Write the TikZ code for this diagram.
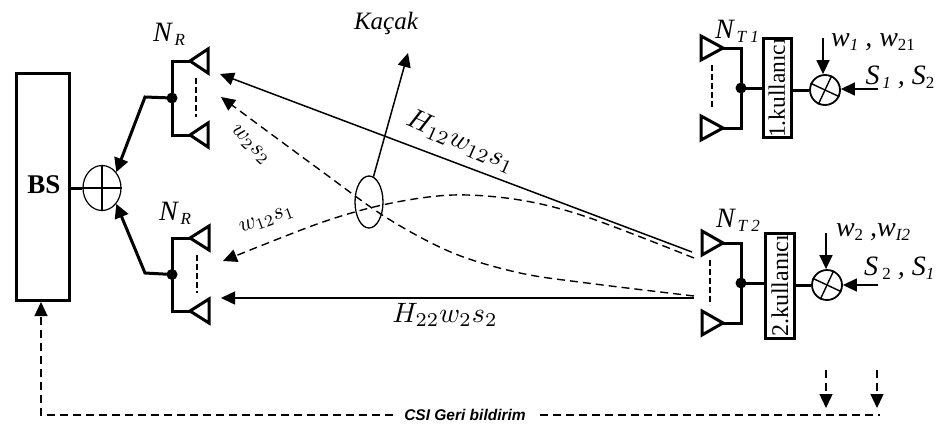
\documentclass[tikz,border=0pt]{standalone}
\usepackage{fontspec}
\setmainfont{Liberation Serif}
\newfontfamily\capfont{Liberation Sans}
\usetikzlibrary{arrows.meta,shapes}
\newcommand{\lowsub}[1]{\raisebox{-4pt}{\fontsize{17}{17}\selectfont #1}}
\tikzset{math/.style = {execute at begin node=$, execute at end node=$},
  sig/.style = {line width=1.5pt, -{Triangle[length=14pt,width=13pt]}},
  sigdash/.style = {line width=1.4pt, dash pattern=on 8pt off 5pt},
  bold/.style = {line width=3pt},
  boldarrow/.style = {line width=3pt, -{Triangle[length=14pt,width=14pt]}},
  sym/.style = {font=\fontsize{28}{28}\selectfont\itshape, inner sep=0pt},
  gain/.style = {math, scale=2.8, inner sep=0pt},
  smallgain/.style = {math, scale=2.3, inner sep=0pt},
  userbox/.style = {draw, line width=3pt, rotate=90, inner sep=0pt},
  mixer/.style = {draw, circle, fill=white, line width=1.8pt, minimum size=30pt, inner sep=0pt}}

\begin{document}
\begin{tikzpicture}[x=1pt, y=-1pt]
        \useasboundingbox (0,0) rectangle (942,426);
        \node [draw, line width=3pt, minimum width=53pt, minimum height=227pt, inner sep=0pt] (bs) at (43,187) {};
        \node [font=\fontsize{27}{27}\selectfont\bfseries, inner sep=0pt] (bslabel) at (44,185) {BS};
        \node [draw, ellipse, line width=1.2pt, minimum width=38pt, minimum height=45pt, inner sep=0pt] (sum) at (102,188) {};
        \draw [line width=1.2pt] (sum.north) -- (sum.south);
        \draw [line width=1.2pt] (sum.west) -- (sum.east);
        \draw [bold] (bs.east |- sum) -- (sum.west);

        % antenna pairs at the base station and at the users
        \foreach \x/\xflip/\ya/\yb/\tw/\dx/\name in {190/1/61/135/18/6/ra, 190/1/238/311/19/7/rb, 723/-1/48/128/22/11/ta, 723/-1/243/323/21/13/tb} {
          \begin{scope}[shift={(\x,0)}, xscale=\xflip]
            \draw [bold] (0,\ya) -- (\tw,\ya-12) -- (\tw,\ya+12) -- cycle;
            \draw [bold] (0,\yb) -- (\tw,\yb-12) -- (\tw,\yb+12) -- cycle;
            \draw [bold] (0,\ya) -- (-18,\ya) -- (-18,\yb) -- (0,\yb);
            \draw [line width=1.4pt, dash pattern=on 6pt off 3pt] (\dx,\ya+17) -- (\dx,\yb-18);
            \coordinate (\name) at (-18,{(\ya+\yb)/2});
          \end{scope}
          \fill (\name) circle (5.5pt);
        }

        \coordinate (rabend) at (145,97);
        \coordinate (rbbend) at (145,273);
        \draw [boldarrow] (ra) -- (rabend) -- (sum.48);
        \draw [boldarrow] (rb) -- (rbbend) -- (sum.-48);
        \node [sym] (nra) at (169,34) {N\lowsub{\,R}};
        \node [sym] (nrb) at (175,213) {N\lowsub{\,R}};

        \node [userbox, minimum height=28pt, minimum width=99pt, font=\fontsize{23.5}{24}\selectfont] (ua) at (777,88) {1.kullanıcı};
        \node [userbox, minimum height=29pt, minimum width=105pt, font=\fontsize{24}{24}\selectfont] (ub) at (780,286) {2.kullanıcı};
        \draw [bold] (ta) -- (ua.north |- ta);
        \draw [bold] (tb) -- (ub.north |- tb);
        \node [mixer] (ma) at (825,90) {};
        \node [mixer] (mb) at (827,285) {};
        \draw [bold] (ua.south |- ma) -- (ma.west);
        \draw [bold] (ub.south |- mb) -- (mb.west);
        \foreach \m in {ma, mb} {
          \draw [line width=1.4pt] (\m.65) -- (\m.245);
          \draw [line width=1.4pt] (\m.155) -- (\m.335);
        }

        \coordinate (wa) at (823,38);
        \coordinate (wb) at (826,233);
        \coordinate (sa) at (878,89);
        \coordinate (sb) at (878,285);
        \draw [sig] (wa) -- (ma.north -| wa);
        \draw [sig] (wb) -- (mb.north -| wb);
        \draw [sig] (sa) -- (ma.east |- sa);
        \draw [sig] (sb) -- (mb.east |- sb);

        \node [sym] (nta) at (737,31) {N\lowsub{\,T 1}};
        \node [sym] (ntb) at (738,220) {N\lowsub{\,T 2}};
        \node [sym] (wla) at (873,42) {w\lowsub{1} , w\lowsub{\upshape 21}};
        \node [sym] (sla) at (900,77) {S\lowsub{\,1} , S\lowsub{\upshape 2}};
        \node [sym] (wlb) at (873,232) {w\lowsub{\upshape 2} ,w\lowsub{I2}};
        \node [sym, anchor=west] (slb) at (864,268) {S\lowsub{\upshape\ 2} , S\lowsub{1}};

        \coordinate (txa) at (692,252);
        \coordinate (txb) at (694,258);
        \coordinate (txc) at (694,296);
        \coordinate (txd) at (694,298);
        \coordinate (rxa) at (220,74);
        \coordinate (rxb) at (221,97);
        \coordinate (rxc) at (223,261);
        \coordinate (rxd) at (221,298);
        \draw [sig] (txa) -- (rxa);
        \draw [sig] (txd) -- (rxd);
        \draw [sig, sigdash] plot [smooth, tension=.55] coordinates{(txb) (587,217) (520,200) (453,195) (387,204) (320,223) (rxc)};
        \draw [sig, sigdash] plot [smooth, tension=.55] coordinates{(txc) (587,283) (520,273) (453,253) (387,218) (320,170) (rxb)};

        \node [draw, ellipse, line width=1.3pt, minimum width=28pt, minimum height=52pt, inner sep=0pt] (leak) at (369,202) {};
        \coordinate (leakend) at (408,53);
        \draw [sig] (leak.80) -- (leakend);
        \node [font=\fontsize{25}{25}\selectfont\itshape, inner sep=0pt] (leaklabel) at (386,23) {Kaçak};

        \node [gain, rotate=-24] (hone) at (461,141) {H_{12}w_{12}s_1};
        \node [gain] (htwo) at (445,315) {H_{22}w_2s_2};
        \node [smallgain, rotate=-45] (wone) at (250,145) {w_2s_2};
        \node [smallgain, rotate=20] (wtwo) at (267,220) {w_{12}s_1};

        \coordinate (csistart) at (393,415);
        \coordinate (csicorner) at (41,415);
        \coordinate (csiend) at (880,415);
        \coordinate (csigap) at (540,415);
        \coordinate (fba) at (826,370);
        \coordinate (fbb) at (877,370);
        \coordinate (fbatip) at (826,408);
        \coordinate (fbbtip) at (877,408);
        \draw [sig, sigdash] (csistart) -- (csicorner) -- (bs.south -| csicorner);
        \draw [sigdash] (csigap) -- (csiend);
        \draw [sig, sigdash] (fba) -- (fbatip);
        \draw [sig, sigdash] (fbb) -- (fbbtip);
        \node [font=\capfont\fontsize{15.5}{15.5}\selectfont\bfseries\itshape, inner sep=0pt] (csi) at (465,415) {CSI Geri bildirim};
      \end{tikzpicture}
\end{document}
